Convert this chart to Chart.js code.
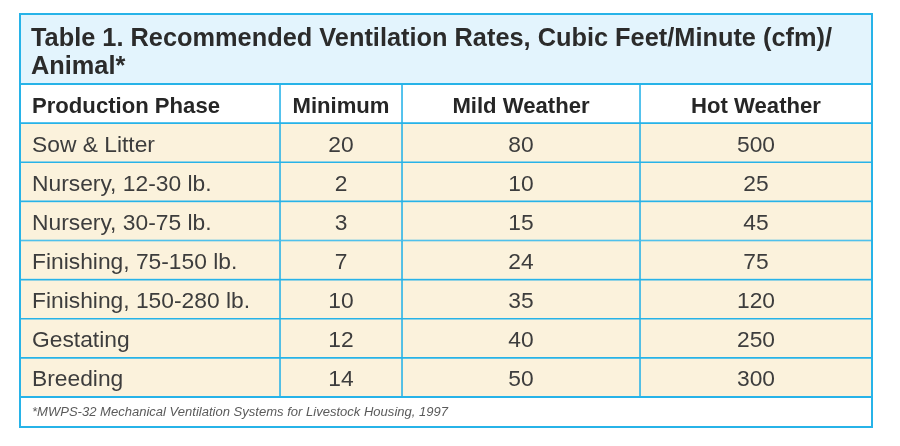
<!DOCTYPE html>
<html>
<head>
<meta charset="utf-8">
<script src="https://cdn.jsdelivr.net/npm/chart.js@4"></script>
<style>
html,body{margin:0;padding:0;background:#fff;}
#wrap{width:900px;height:446px;position:relative;}
</style>
</head>
<body>
<div id="wrap"><canvas id="c"></canvas></div>
<script>
// ---- data ----
const titleLines = ['Table 1. Recommended Ventilation Rates, Cubic Feet/Minute (cfm)/', 'Animal*'];
const columns = ['Production Phase', 'Minimum', 'Mild Weather', 'Hot Weather'];
const phases = ['Sow & Litter', 'Nursery, 12-30 lb.', 'Nursery, 30-75 lb.', 'Finishing, 75-150 lb.', 'Finishing, 150-280 lb.', 'Gestating', 'Breeding'];
const minimum = [20, 2, 3, 7, 10, 12, 14];
const mildWeather = [80, 10, 15, 24, 35, 40, 50];
const hotWeather = [500, 25, 45, 75, 120, 250, 300];
const footnote = '*MWPS-32 Mechanical Ventilation Systems for Livestock Housing, 1997';

// ---- layout / style (not data) ----
const colEdges = [0, 260, 382, 620, 852];
const CYAN = '#27b3e8';
const TITLE_BG = '#e3f4fd';
const CREAM = '#fbf2dc';
const FONT = '"Liberation Sans", Arial, sans-serif';

const rowLabels = [columns[0]].concat(phases);
const valueCols = [null, minimum, mildWeather, hotWeather];

const datasets = columns.map((col, c) => ({
  label: col,
  data: rowLabels.map(() => [colEdges[c], colEdges[c + 1]]),
  backgroundColor: rowLabels.map((_, i) => i === 0 ? '#ffffff' : CREAM),
  borderColor: CYAN,
  borderWidth: 1.1,
  borderSkipped: false,
  categoryPercentage: 1,
  barPercentage: 1,
  grouped: false
}));

function drawFit(ctx, text, x, y, font, sx, align) {
  ctx.save();
  ctx.font = font;
  const w = ctx.measureText(text).width * sx;
  let x0 = x;
  if (align === 'center') x0 = x - w / 2;
  ctx.translate(x0, y);
  ctx.scale(sx, 1);
  ctx.textAlign = 'left';
  ctx.textBaseline = 'alphabetic';
  ctx.fillText(text, 0, 0);
  ctx.restore();
}
function fitScale(ctx, text, font, target) {
  ctx.save(); ctx.font = font;
  const w = ctx.measureText(text).width; ctx.restore();
  return target / w;
}

const tablePlugin = {
  id: 'tablePlugin',
  beforeDraw(chart) {
    const ctx = chart.ctx;
    const xs = chart.scales.x;
    const left = xs.getPixelForValue(colEdges[0]);
    const right = xs.getPixelForValue(colEdges[colEdges.length - 1]);
    const top = chart.chartArea.top;
    ctx.save();
    ctx.fillStyle = TITLE_BG;
    ctx.fillRect(left, 14, right - left, top - 14);
    ctx.restore();
  },
  afterDatasetsDraw(chart) {
    const ctx = chart.ctx;
    const xs = chart.scales.x, ys = chart.scales.y;
    const left = xs.getPixelForValue(colEdges[0]);
    const right = xs.getPixelForValue(colEdges[colEdges.length - 1]);
    const top = chart.chartArea.top, bottom = chart.chartArea.bottom;

    // title
    ctx.fillStyle = '#2b2b2b';
    const tFont = 'bold 25px ' + FONT;
    const tsx = fitScale(ctx, titleLines[0], tFont, 801);
    drawFit(ctx, titleLines[0], left + 11, 46, tFont, tsx, 'left');
    drawFit(ctx, titleLines[1], left + 11, 74, tFont, tsx, 'left');

    // header
    const hFont = 'bold 22px ' + FONT;
    const hsx = fitScale(ctx, columns[0], hFont, 188);
    const hy = ys.getPixelForValue(0) + 9;
    ctx.fillStyle = '#262626';
    columns.forEach((col, c) => {
      if (c === 0) drawFit(ctx, col, xs.getPixelForValue(colEdges[0]) + 12, hy, hFont, hsx, 'left');
      else drawFit(ctx, col, xs.getPixelForValue((colEdges[c] + colEdges[c + 1]) / 2), hy, hFont, hsx, 'center');
    });

    // body
    const bFont = '22px ' + FONT;
    const bsx = fitScale(ctx, phases[4], bFont, 218);
    ctx.fillStyle = '#3d3d3d';
    phases.forEach((p, r) => {
      const y = ys.getPixelForValue(r + 1) + 9;
      drawFit(ctx, p, xs.getPixelForValue(colEdges[0]) + 12, y, bFont, bsx, 'left');
      for (let c = 1; c < 4; c++) {
        drawFit(ctx, String(valueCols[c][r]), xs.getPixelForValue((colEdges[c] + colEdges[c + 1]) / 2), y, bFont, bsx, 'center');
      }
    });

    // footnote
    const fFont = 'italic 12px ' + FONT;
    const fsx = fitScale(ctx, footnote, fFont, 416);
    ctx.fillStyle = '#5a5a5a';
    drawFit(ctx, footnote, left + 12, bottom + 19, fFont, fsx, 'left');

    // outer frame
    ctx.save();
    ctx.strokeStyle = CYAN;
    ctx.lineWidth = 2;
    ctx.strokeRect(left, 14, right - left, 427 - 14);
    ctx.beginPath();
    ctx.moveTo(left, top); ctx.lineTo(right, top);
    ctx.moveTo(left, bottom); ctx.lineTo(right, bottom);
    ctx.stroke();
    ctx.restore();
  }
};

new Chart(document.getElementById('c'), {
  type: 'bar',
  data: { labels: rowLabels, datasets },
  options: {
    indexAxis: 'y',
    responsive: true,
    maintainAspectRatio: false,
    animation: false,
    layout: { padding: { top: 84, bottom: 49, left: 20, right: 28 } },
    plugins: { legend: { display: false }, tooltip: { enabled: false }, title: { display: false } },
    scales: {
      x: { type: 'linear', min: colEdges[0], max: colEdges[colEdges.length - 1], display: false },
      y: { type: 'category', display: false, offset: true }
    }
  },
  plugins: [tablePlugin]
});
</script>
</body>
</html>
